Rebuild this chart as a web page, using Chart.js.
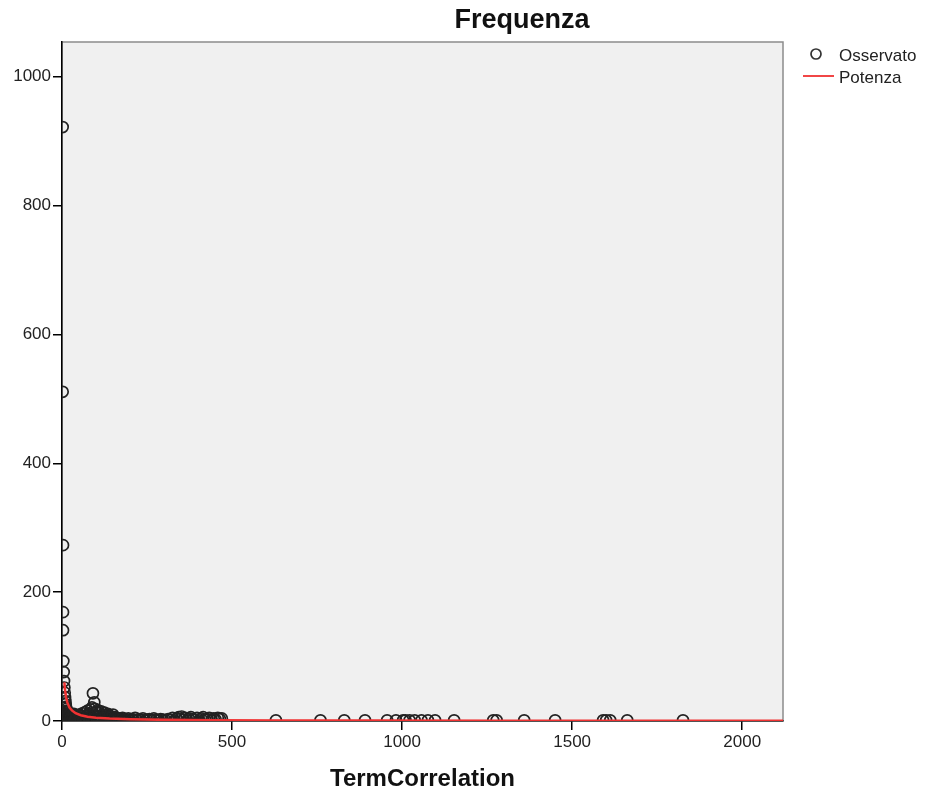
<!DOCTYPE html>
<html>
<head>
<meta charset="utf-8">
<script src="https://cdn.jsdelivr.net/npm/chart.js@4"></script>
<style>
  html, body { margin: 0; padding: 0; background: #ffffff; }
  #wrap { width: 927px; height: 795px; position: relative; }
</style>
</head>
<body>
<div id="wrap"><canvas id="c" width="927" height="795"></canvas></div>
<script>
// ---- Data ----
const chartTitle = "Frequenza";
const xAxisTitle = "TermCorrelation";
const seriesNames = ["Osservato", "Potenza"];

// Observed points (x = TermCorrelation, y = Frequenza)
const obsX = [
  2,2,3,3,3,4,5,6,7,8,9,10,11,12,13,14,15,
  1,2,3,4,5,6,7,8,9,10,11,12,13,15,16,17,18,19,20,21,22,23,24,25,26,27,28,29,30,31,32,33,34,35,36,37,38,39,40,
  42,45,48,50,52,55,58,60,62,65,68,70,72,75,78,80,82,84,86,88,90,91,93,95,97,99,101,103,105,108,110,112,115,118,120,122,125,128,130,133,135,138,140,143,145,148,150,153,155,158,160,
  163,167,170,174,178,182,186,190,195,200,205,210,215,220,226,232,238,244,250,257,264,270,277,284,290,297,
  305,312,318,325,331,337,343,348,352,357,362,368,373,379,385,391,397,403,409,415,421,427,433,440,446,452,458,464,470,
  629,760,830,891,956,982,1003,1010,1022,1037,1057,1076,1097,1153,1268,1278,1359,1450,1591,1600,1612,1662,1826
];
const obsY = [
  922,511,273,169,141,93,76,62,52,44,37,31,26,22,19,16,14,
  8,5,3,10,6,2,12,4,9,3,7,11,2,8,5,12,3,9,6,2,10,4,7,12,3,8,5,2,10,6,3,8,4,11,2,7,5,3,9,
  4,7,3,10,5,2,8,12,4,6,14,3,9,16,5,11,2,18,7,21,12,43,4,29,19,9,14,3,17,7,12,5,15,2,10,6,13,4,9,3,11,6,8,2,7,4,10,3,6,2,5,
  3,1,4,2,5,1,3,2,4,1,3,2,5,1,3,2,4,1,2,3,1,4,2,1,3,2,
  1,3,2,5,1,4,6,3,7,2,5,1,4,6,3,2,5,1,4,6,2,3,5,1,4,2,5,3,4,
  1,1,1,1,1,1,1,1,1,1,1,1,1,1,1,1,1,1,1,1,1,1,1
];

// Fitted power curve
const fitX = [7, 9, 12, 16, 22, 30, 40, 55, 75, 100, 140, 200, 300, 450, 650, 900, 1300, 1800, 2120];
const fitY = [60, 48, 37, 28, 21, 16, 12, 9, 6.7, 5.1, 3.7, 2.6, 1.8, 1.2, 0.87, 0.64, 0.45, 0.33, 0.29];

const xTicks = [0, 500, 1000, 1500, 2000];
const yTicks = [0, 200, 400, 600, 800, 1000];

// ---- Build chart ----
const FONT = "'Liberation Sans', Arial, sans-serif";
const obsPoints = obsX.map((x, i) => ({ x: x, y: obsY[i] }));
const fitPoints = fitX.map((x, i) => ({ x: x, y: fitY[i] }));

const bgPlugin = {
  id: 'plotBg',
  beforeDraw(chart) {
    const { ctx, chartArea: a } = chart;
    ctx.save();
    ctx.fillStyle = '#f0f0f0';
    ctx.fillRect(a.left, a.top, a.right - a.left, a.bottom - a.top);
    ctx.strokeStyle = '#8c8c8c';
    ctx.lineWidth = 1.5;
    ctx.strokeRect(a.left, a.top, a.right - a.left, a.bottom - a.top);
    ctx.restore();
  },
  afterDraw(chart) {
    const { ctx } = chart;
    ctx.save();
    // Title
    ctx.fillStyle = '#111';
    ctx.font = "bold 27px " + FONT;
    ctx.textAlign = 'center';
    ctx.textBaseline = 'middle';
    ctx.fillText(chartTitle, 522, 21);
    // Legend
    ctx.font = "17px " + FONT;
    ctx.textAlign = 'left';
    ctx.fillStyle = '#222';
    ctx.beginPath();
    ctx.arc(816, 54, 5, 0, Math.PI * 2);
    ctx.strokeStyle = '#333';
    ctx.lineWidth = 1.7;
    ctx.stroke();
    ctx.fillText(seriesNames[0], 839, 56);
    ctx.beginPath();
    ctx.moveTo(803, 76);
    ctx.lineTo(834, 76);
    ctx.strokeStyle = '#f03232';
    ctx.lineWidth = 1.8;
    ctx.stroke();
    ctx.fillText(seriesNames[1], 839, 78);
    ctx.restore();
  }
};

new Chart(document.getElementById('c'), {
  type: 'scatter',
  data: {
    datasets: [
      {
        label: seriesNames[1],
        type: 'line',
        data: fitPoints,
        borderColor: '#f03232',
        borderWidth: 2.5,
        pointRadius: 0,
        tension: 0,
        fill: false,
        clip: 0,
        order: 0
      },
      {
        label: seriesNames[0],
        data: obsPoints,
        pointStyle: 'circle',
        pointRadius: 5.5,
        pointBorderWidth: 1.7,
        pointBorderColor: '#222',
        pointBackgroundColor: 'rgba(0,0,0,0)',
        clip: 0,
        order: 1
      }
    ]
  },
  plugins: [bgPlugin],
  options: {
    responsive: false,
    animation: false,
    events: [],
    layout: { padding: { top: 42, right: 144, bottom: 0, left: 0 } },
    plugins: {
      legend: { display: false },
      title: { display: false },
      tooltip: { enabled: false }
    },
    scales: {
      x: {
        type: 'linear',
        min: 0,
        max: 2120,
        afterFit(scale) { scale.height = 74; },
        afterBuildTicks(scale) { scale.ticks = xTicks.map(v => ({ value: v })); },
        ticks: {
          includeBounds: false,
          color: '#222',
          font: { family: FONT, size: 17 },
          padding: 2,
          maxRotation: 0,
          callback: (v) => String(v)
        },
        grid: {
          display: true,
          drawOnChartArea: false,
          drawTicks: true,
          tickLength: 9,
          color: '#000',
          lineWidth: 1.5
        },
        border: { display: true, color: '#000', width: 1.5 },
        title: {
          display: true,
          text: xAxisTitle,
          color: '#111',
          font: { family: FONT, size: 24, weight: 'bold' },
          padding: { top: 0, bottom: 1 }
        }
      },
      y: {
        type: 'linear',
        min: 0,
        max: 1054,
        afterFit(scale) { scale.width = 62; },
        afterBuildTicks(scale) { scale.ticks = yTicks.map(v => ({ value: v })); },
        ticks: {
          includeBounds: false,
          color: '#222',
          font: { family: FONT, size: 17 },
          padding: 2,
          callback: (v) => String(v)
        },
        grid: {
          display: true,
          drawOnChartArea: false,
          drawTicks: true,
          tickLength: 9,
          color: '#000',
          lineWidth: 1.5
        },
        border: { display: true, color: '#000', width: 1.5 }
      }
    }
  }
});
</script>
</body>
</html>
